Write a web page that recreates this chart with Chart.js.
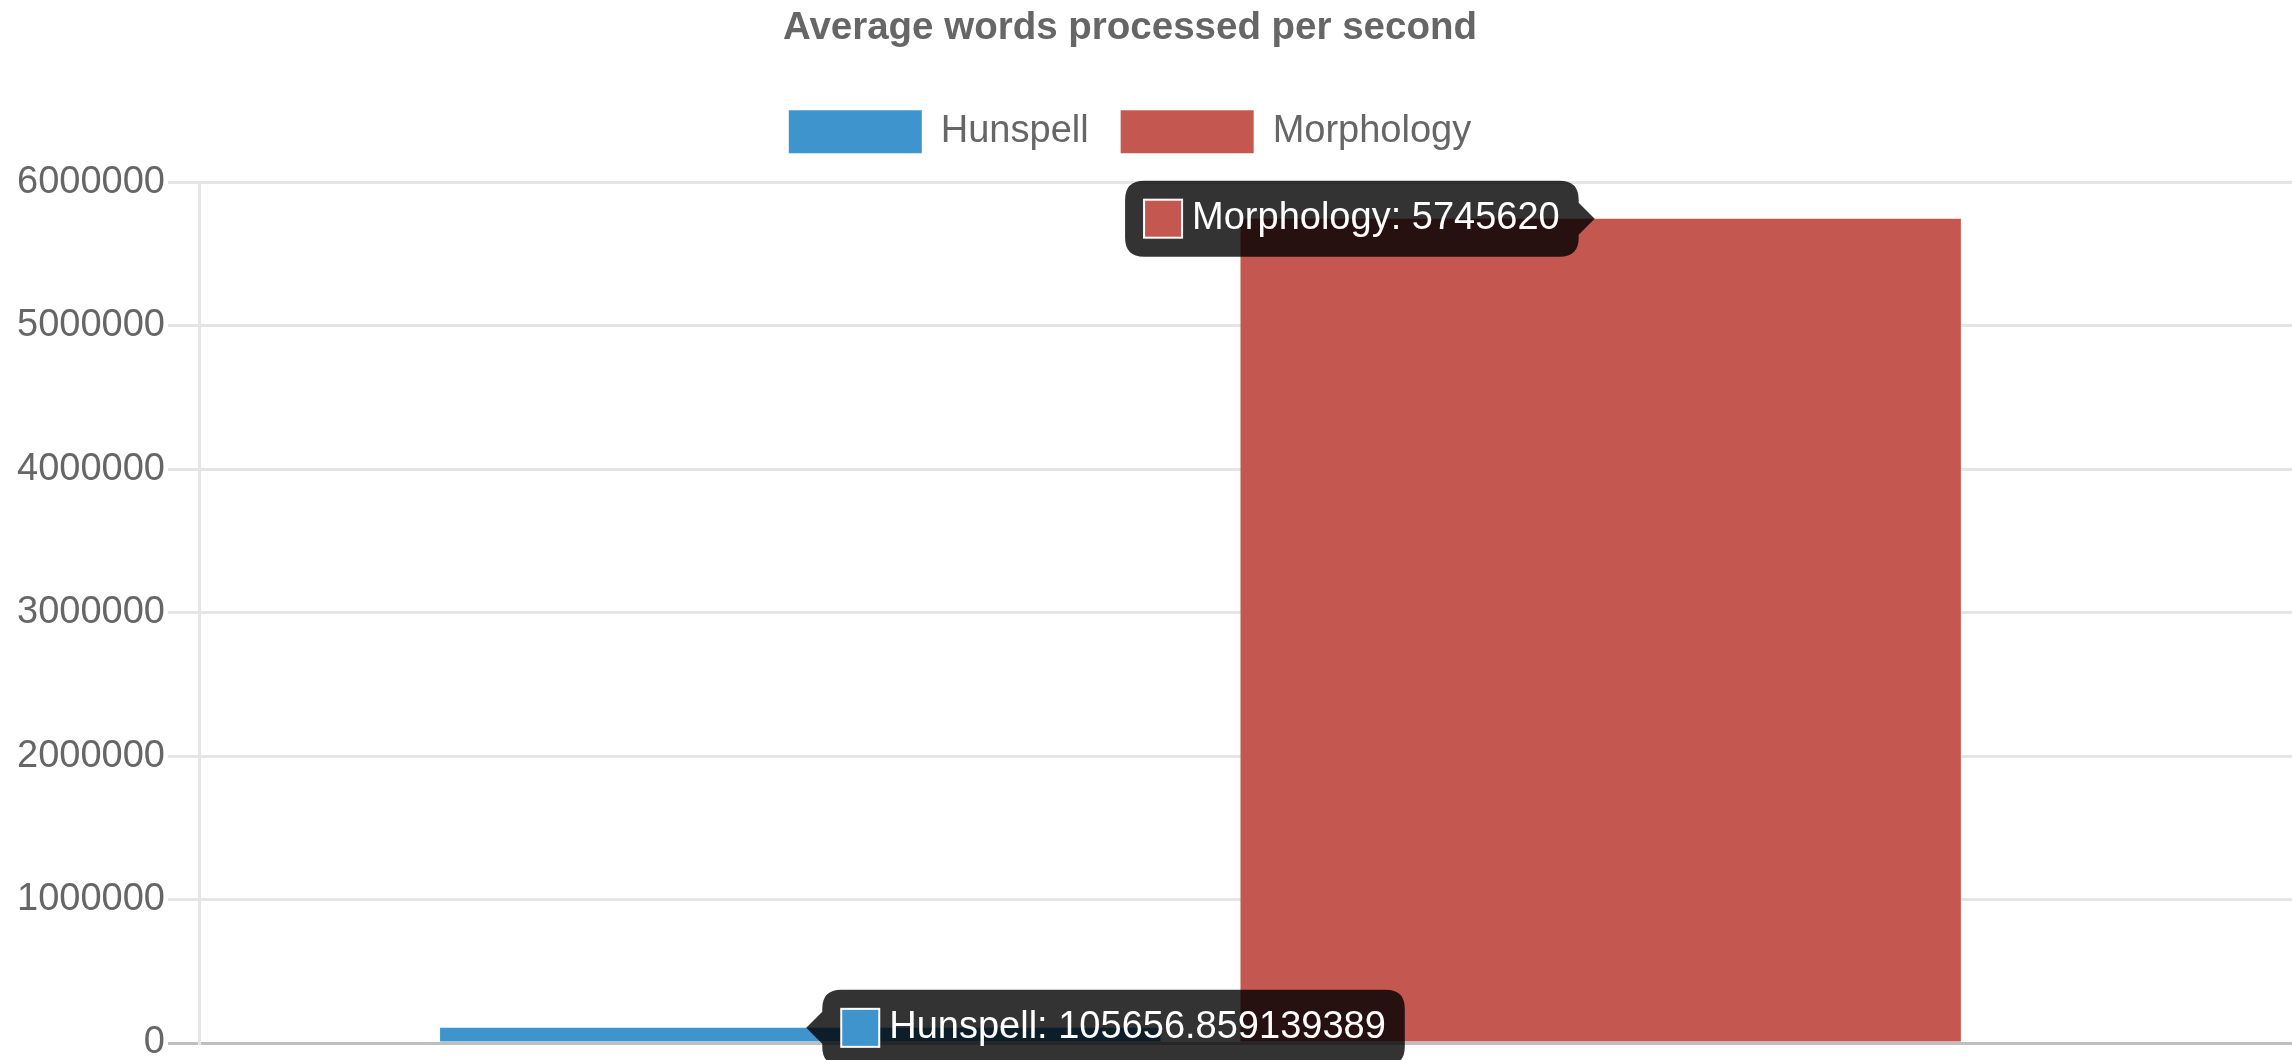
<!DOCTYPE html>
<html>
<head>
<meta charset="utf-8">
<title>Average words processed per second</title>
<script src="https://cdn.jsdelivr.net/npm/chart.js@4/dist/chart.umd.min.js"></script>
<style>
    html, body { margin: 0; padding: 0; background: #fff; overflow: hidden; }
    .chart-box { position: relative; width: 2292px; height: 1150px; }
</style>
</head>
<body>
<div class="chart-box"><canvas id="speedChart"></canvas></div>
<script>
// Data
const categories = ['Words per second'];
const hunspellValues = [105656.859139389];
const morphologyValues = [5745620];
const seriesNames = ['Hunspell', 'Morphology'];
const seriesColors = ['#3e95cd', '#c45850'];
const yMin = 0;
const yMax = 6000000;
const yStep = 1000000;

const gridColor = 'rgba(0, 0, 0, 0.1)';
const zeroLineColor = 'rgba(0, 0, 0, 0.25)';

Chart.defaults.font.family = "'Liberation Sans', Arial, Helvetica, sans-serif";
Chart.defaults.font.size = 38;
Chart.defaults.color = '#666';

// Tooltip anchored at the top of the bar, like the old 2.x charts
Chart.Tooltip.positioners.barTop = function(items) {
    if (!items.length) return false;
    const el = items[0].element;
    return { x: el.x, y: el.y };
};

// Draw one tooltip for every bar
const showAllTooltips = {
    id: 'showAllTooltips',
    beforeTooltipDraw() {
        return false;
    },
    afterDraw(chart) {
        const tooltip = chart.tooltip;
        chart.data.datasets.forEach((dataset, datasetIndex) => {
            chart.getDatasetMeta(datasetIndex).data.forEach((element, index) => {
                tooltip.setActiveElements([{ datasetIndex, index }], { x: element.x, y: element.y });
                tooltip.draw(chart.ctx);
            });
        });
    }
};

// Some room between legend and plot area
const legendGap = {
    id: 'legendGap',
    beforeInit(chart) {
        const fit = chart.legend.fit;
        chart.legend.fit = function() {
            fit.call(this);
            this.height += 19;
        };
    }
};

const gridLineColor = ctx => (ctx.tick && ctx.tick.value === 0 ? zeroLineColor : gridColor);

new Chart(document.getElementById('speedChart'), {
    type: 'bar',
    data: {
        labels: categories,
        datasets: [{
            label: seriesNames[0],
            data: hunspellValues,
            backgroundColor: seriesColors[0],
            borderColor: seriesColors[0],
            borderWidth: 0
        }, {
            label: seriesNames[1],
            data: morphologyValues,
            backgroundColor: seriesColors[1],
            borderColor: seriesColors[1],
            borderWidth: 0
        }]
    },
    options: {
        responsive: true,
        maintainAspectRatio: false,
        devicePixelRatio: 1,
        animation: false,
        events: [],
        layout: {
            padding: { left: 14, right: 46, top: 0, bottom: 107 }
        },
        plugins: {
            title: {
                display: true,
                text: 'Average words processed per second',
                color: '#666',
                font: { size: 38.5, weight: 'bold', lineHeight: 1.2 },
                padding: { top: 5, bottom: 27 }
            },
            legend: {
                display: true,
                position: 'top',
                labels: {
                    boxWidth: 133,
                    boxHeight: 43,
                    padding: 32,
                    color: '#666',
                    font: { size: 38 }
                }
            },
            tooltip: {
                position: 'barTop',
                backgroundColor: 'rgba(0, 0, 0, 0.8)',
                bodyColor: '#fff',
                bodyFont: { size: 38, lineHeight: 1 },
                padding: 19,
                caretSize: 16,
                caretPadding: 6,
                cornerRadius: 19,
                boxWidth: 38,
                boxHeight: 38,
                boxPadding: 8,
                displayColors: true,
                callbacks: {
                    title: () => '',
                    label: ctx => ctx.dataset.label + ': ' + ctx.raw,
                    labelColor: ctx => ({
                        borderColor: '#fff',
                        backgroundColor: ctx.dataset.backgroundColor,
                        borderWidth: 2
                    })
                }
            }
        },
        scales: {
            x: {
                display: false
            },
            y: {
                min: yMin,
                max: yMax,
                ticks: {
                    stepSize: yStep,
                    padding: 3,
                    color: '#666',
                    callback: value => value
                },
                grid: {
                    color: gridLineColor,
                    lineWidth: 3,
                    tickLength: 32
                },
                border: {
                    display: true,
                    color: gridColor,
                    width: 3
                }
            },
            // Right side: carries the grid lines past the bars to the edge
            y2: {
                position: 'right',
                min: yMin,
                max: yMax,
                ticks: { display: false, stepSize: yStep },
                grid: {
                    drawOnChartArea: false,
                    color: gridLineColor,
                    lineWidth: 3,
                    tickLength: 91
                },
                border: { display: false },
                afterFit(scale) {
                    scale.width = 45;
                }
            }
        }
    },
    plugins: [legendGap, showAllTooltips]
});
</script>
</body>
</html>
